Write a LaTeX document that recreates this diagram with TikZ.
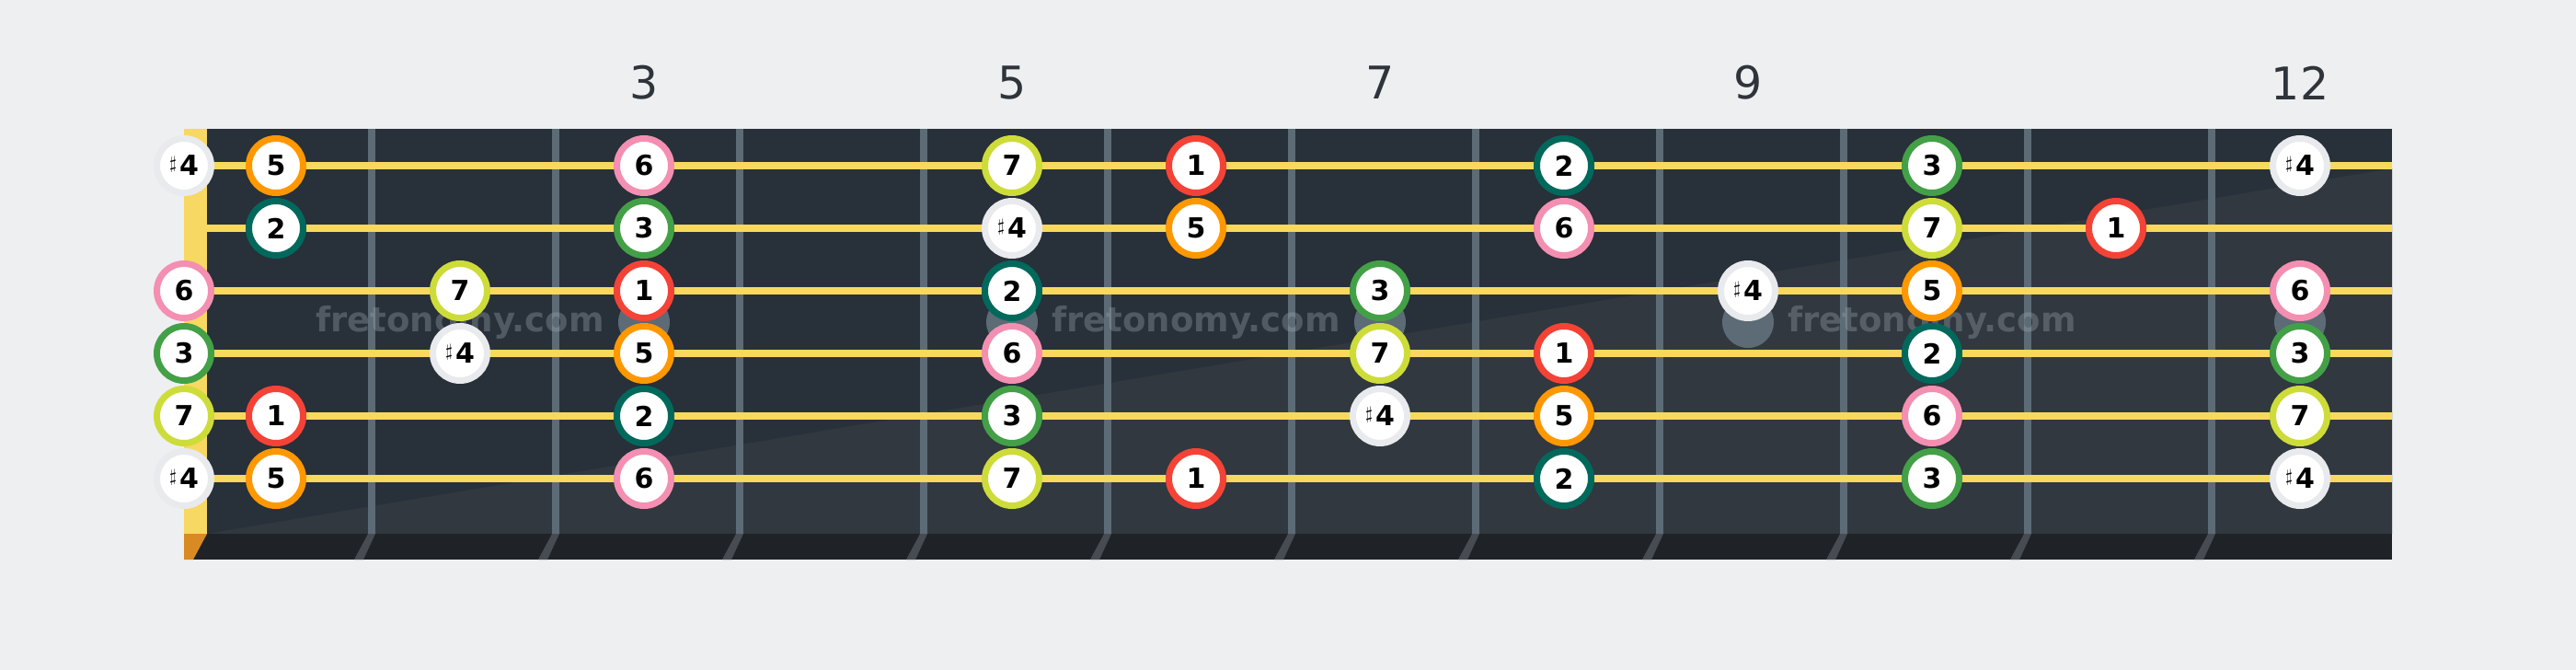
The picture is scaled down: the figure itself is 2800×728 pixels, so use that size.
\documentclass[tikz,border=0pt]{standalone}
\usepackage{fontspec}
\usepackage{graphicx}
\setmainfont{DejaVu Sans}
\definecolor{bg}{HTML}{EDEFF1}
\definecolor{board}{HTML}{283039}
\definecolor{boardlight}{HTML}{31383F}
\definecolor{boardbottom}{HTML}{1F2328}
\definecolor{nutyellow}{HTML}{F7D862}
\definecolor{nutorange}{HTML}{D98A22}
\definecolor{fretgray}{HTML}{5C6B76}
\definecolor{fretslant}{HTML}{474C52}
\definecolor{stringyellow}{HTML}{F8D95E}
\definecolor{numgray}{HTML}{2F343B}
\definecolor{wmgray}{HTML}{A0A8B0}
\definecolor{c1}{HTML}{F44336}
\definecolor{c2}{HTML}{00695C}
\definecolor{c3}{HTML}{43A047}
\definecolor{c4}{HTML}{E8EAED}
\definecolor{c5}{HTML}{FF9800}
\definecolor{c6}{HTML}{F48FB1}
\definecolor{c7}{HTML}{CDDC39}
\newcommand\sharpfour{\raisebox{3.3pt}{\resizebox{8pt}{17pt}{\raisebox{\depth}{$\sharp$}}}\kern3pt 4}
\begin{document}
\begin{tikzpicture}[x=1pt,y=-1pt,
  notecircle/.style={circle, draw=#1, line width=7pt, fill=white, minimum size=59pt, inner sep=0pt,
    font=\fontsize{30}{30}\selectfont\bfseries, text=black},
  fretnum/.style={font=\fontsize{49}{49}\selectfont, text=numgray, inner sep=0pt},
  watermark/.style={font=\fontsize{37}{37}\selectfont\bfseries, text=wmgray, text opacity=0.35, inner sep=0pt},
  inlay/.style={circle, fill=fretgray, minimum size=56pt, inner sep=0pt}
]
\fill[bg] (0,0) rectangle (2800,728);
\useasboundingbox (0,0) rectangle (2800,728);
% board
\fill[board] (225,140) rectangle (2600,580);
\fill[boardlight] (225,580) -- (2600,183) -- (2600,580) -- cycle;
\fill[boardbottom] (200,580) rectangle (2600,608);
\fill[nutyellow] (200,140) rectangle (225,580);
\fill[nutorange] (200,580) -- (225,580) -- (210,608) -- (200,608) -- cycle;
% frets
\foreach \k in {1,...,11}{
  \pgfmathsetmacro\fx{400+200*(\k-1)}
  \fill[fretgray] (\fx,140) rectangle (\fx+8,580);
  \fill[fretslant] (\fx,580) -- (\fx+8,580) -- (\fx-5,608) -- (\fx-15,608) -- cycle;
}
% inlays
\foreach \f in {3,5,7,9,12}{
  \node[inlay] (inlay\f) at (100+200*\f,350) {};
}
% strings
\foreach \s in {1,...,6}{
  \pgfmathsetmacro\sy{180+68*(\s-1)}
  \fill[stringyellow] (225,\sy-4) rectangle (2600,\sy+4);
}
% watermarks
\node[watermark] (wm1) at (500,350) {fretonomy.com};
\node[watermark] (wm2) at (1300,350) {fretonomy.com};
\node[watermark] (wm3) at (2100,350) {fretonomy.com};
% fret numbers
\foreach \f in {3,5,7,9,12}{
  \node[fretnum] (num\f) at (100+200*\f,90) {\f};
}
% notes
\foreach \s/\f/\d in {
  1/0/4, 1/1/5, 1/3/6, 1/5/7, 1/6/1, 1/8/2, 1/10/3, 1/12/4,
  2/1/2, 2/3/3, 2/5/4, 2/6/5, 2/8/6, 2/10/7, 2/11/1,
  3/0/6, 3/2/7, 3/3/1, 3/5/2, 3/7/3, 3/9/4, 3/10/5, 3/12/6,
  4/0/3, 4/2/4, 4/3/5, 4/5/6, 4/7/7, 4/8/1, 4/10/2, 4/12/3,
  5/0/7, 5/1/1, 5/3/2, 5/5/3, 5/7/4, 5/8/5, 5/10/6, 5/12/7,
  6/0/4, 6/1/5, 6/3/6, 6/5/7, 6/6/1, 6/8/2, 6/10/3, 6/12/4}{
  \pgfmathsetmacro\nx{ifthenelse(\f==0,200,100+200*\f)}
  \pgfmathsetmacro\ny{180+68*(\s-1)}
  \node[notecircle=c\d] (n\s-\f) at (\nx,\ny) {\ifnum\d=4 \sharpfour\else\d\fi};
}
\end{tikzpicture}
\end{document}
